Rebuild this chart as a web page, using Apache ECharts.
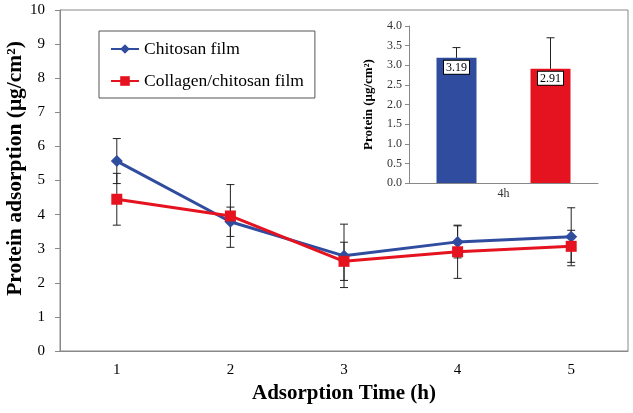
<!DOCTYPE html>
<html>
<head>
<meta charset="utf-8">
<script src="https://cdn.jsdelivr.net/npm/echarts@6/dist/echarts.min.js"></script>
<style>html,body{margin:0;padding:0;background:#fff}#c{width:633px;height:413px}</style>
</head>
<body>
<div id="c"></div>
<script>
var categories = ['1', '2', '3', '4', '5'];
var chitosanMean = [5.57, 3.79, 2.79, 3.20, 3.35];
var chitosanErr = [0.66, 0.43, 0.93, 0.47, 0.85];
var collagenMean = [4.45, 3.96, 2.63, 2.91, 3.07];
var collagenErr = [0.76, 0.92, 0.56, 0.78, 0.47];
var insetCategories = ['4h'];
var insetChitosan = [3.19];
var insetChitosanErr = [0.26];
var insetCollagen = [2.91];
var insetCollagenErr = [0.79];

var BLUE = '#2F4C9E', RED = '#E5131F';
var FONT = 'Liberation Serif';

function errData(mean, err) {
  return mean.map(function (m, i) { return [i, m - err[i], m + err[i]]; });
}
function errRender(capHalf) {
  return function (params, api) {
    var x = api.value(0);
    var lo = api.coord([x, api.value(1)]);
    var hi = api.coord([x, api.value(2)]);
    var st = { stroke: '#222', lineWidth: 1 };
    return { type: 'group', children: [
      { type: 'line', shape: { x1: lo[0], y1: lo[1], x2: hi[0], y2: hi[1] }, style: st },
      { type: 'line', shape: { x1: lo[0] - capHalf, y1: lo[1], x2: lo[0] + capHalf, y2: lo[1] }, style: st },
      { type: 'line', shape: { x1: hi[0] - capHalf, y1: hi[1], x2: hi[0] + capHalf, y2: hi[1] }, style: st }
    ]};
  };
}
function insetErrRender(offset) {
  return function (params, api) {
    var base = api.coord([api.value(0), api.value(1)]);
    var top = api.coord([api.value(0), api.value(2)]);
    var x = base[0] + offset;
    var st = { stroke: '#222', lineWidth: 1 };
    return { type: 'group', children: [
      { type: 'line', shape: { x1: x, y1: base[1], x2: x, y2: top[1] }, style: st },
      { type: 'line', shape: { x1: x - 4, y1: top[1], x2: x + 4, y2: top[1] }, style: st }
    ]};
  };
}

var chart = echarts.init(document.getElementById('c'));
chart.setOption({
  animation: false,
  textStyle: { fontFamily: FONT },
  legend: {
    data: ['Chitosan film', 'Collagen/chitosan film'],
    orient: 'vertical',
    left: 99, top: 31,
    padding: [9, 11, 8, 11],
    itemGap: 14,
    itemWidth: 28, itemHeight: 12,
    borderColor: '#555', borderWidth: 1,
    textStyle: { fontFamily: FONT, fontSize: 17.5, color: '#000' }
  },
  grid: [
    { left: 60, right: 5, top: 10, bottom: 62, outerBoundsMode: 'none', containLabel: false,
      show: true, borderColor: '#888', borderWidth: 1 },
    { left: 409, right: 35, top: 26, bottom: 230, outerBoundsMode: 'none', containLabel: false }
  ],
  xAxis: [
    { type: 'category', gridIndex: 0, data: categories, boundaryGap: true,
      name: 'Adsorption Time (h)', nameLocation: 'middle', nameGap: 32, nameMoveOverlap: false,
      nameTextStyle: { fontFamily: FONT, fontSize: 21, fontWeight: 'bold', color: '#000' },
      axisLine: { lineStyle: { color: '#888' } },
      axisTick: { length: 5, lineStyle: { color: '#888' } },
      axisLabel: { fontFamily: FONT, fontSize: 15, color: '#000', margin: 12 } },
    { type: 'category', gridIndex: 1, data: insetCategories, boundaryGap: true,
      axisLine: { lineStyle: { color: '#888' } },
      axisTick: { alignWithLabel: true, length: 4, lineStyle: { color: '#888' } },
      axisLabel: { fontFamily: FONT, fontSize: 12, color: '#333', margin: 5 } }
  ],
  yAxis: [
    { type: 'value', gridIndex: 0, min: 0, max: 10, interval: 1,
      name: 'Protein adsorption (\u03bcg/cm\u00b2)', nameLocation: 'middle', nameGap: 34, nameMoveOverlap: false,
      nameTextStyle: { fontFamily: FONT, fontSize: 21.5, fontWeight: 'bold', color: '#000',
        padding: [0, 0, 0, 24] },
      axisLine: { show: true, lineStyle: { color: '#888' } },
      axisTick: { show: true, length: 5, lineStyle: { color: '#888' } },
      splitLine: { show: false },
      axisLabel: { fontFamily: FONT, fontSize: 15, color: '#000', margin: 15 } },
    { type: 'value', gridIndex: 1, min: 0, max: 4, interval: 0.5,
      name: 'Protein (\u03bcg/cm\u00b2)', nameLocation: 'middle', nameGap: 34,
      nameTextStyle: { fontFamily: FONT, fontSize: 13, fontWeight: 'bold', color: '#000' },
      axisLine: { show: true, lineStyle: { color: '#888' } },
      axisTick: { show: true, length: 4, lineStyle: { color: '#888' } },
      splitLine: { show: false },
      axisLabel: { fontFamily: FONT, fontSize: 12, color: '#333', margin: 7,
        formatter: function (v) { return v.toFixed(1); } } }
  ],
  series: [
    { type: 'custom', name: 'errChitosan', xAxisIndex: 0, yAxisIndex: 0, z: 1,
      renderItem: errRender(4), data: errData(chitosanMean, chitosanErr) },
    { type: 'custom', name: 'errCollagen', xAxisIndex: 0, yAxisIndex: 0, z: 1,
      renderItem: errRender(4), data: errData(collagenMean, collagenErr) },
    { type: 'line', name: 'Chitosan film', xAxisIndex: 0, yAxisIndex: 0, z: 3,
      data: chitosanMean, symbol: 'diamond', symbolSize: 12,
      lineStyle: { color: BLUE, width: 3 }, itemStyle: { color: BLUE } },
    { type: 'line', name: 'Collagen/chitosan film', xAxisIndex: 0, yAxisIndex: 0, z: 4,
      data: collagenMean, symbol: 'rect', symbolSize: 11,
      lineStyle: { color: RED, width: 3 }, itemStyle: { color: RED } },
    { type: 'bar', name: 'inset chitosan', xAxisIndex: 1, yAxisIndex: 1,
      data: insetChitosan, barWidth: 40, barGap: '135%',
      itemStyle: { color: BLUE },
      label: { show: true, position: 'insideTop', distance: 3, fontFamily: FONT, fontSize: 12, color: '#000',
        backgroundColor: '#fff', borderColor: '#000', borderWidth: 1, padding: [1, 2, 0, 2],
        formatter: function (p) { return p.value.toFixed(2); } } },
    { type: 'bar', name: 'inset collagen', xAxisIndex: 1, yAxisIndex: 1,
      data: insetCollagen, barWidth: 40, barGap: '135%',
      itemStyle: { color: RED },
      label: { show: true, position: 'insideTop', distance: 3, fontFamily: FONT, fontSize: 12, color: '#000',
        backgroundColor: '#fff', borderColor: '#000', borderWidth: 1, padding: [1, 2, 0, 2],
        formatter: function (p) { return p.value.toFixed(2); } } },
    { type: 'custom', name: 'insetErr1', xAxisIndex: 1, yAxisIndex: 1, z: 5,
      renderItem: insetErrRender(-47),
      data: insetChitosan.map(function (m, i) { return [i, m, m + insetChitosanErr[i]]; }) },
    { type: 'custom', name: 'insetErr2', xAxisIndex: 1, yAxisIndex: 1, z: 5,
      renderItem: insetErrRender(47),
      data: insetCollagen.map(function (m, i) { return [i, m, m + insetCollagenErr[i]]; }) }
  ]
});
</script>
</body>
</html>
